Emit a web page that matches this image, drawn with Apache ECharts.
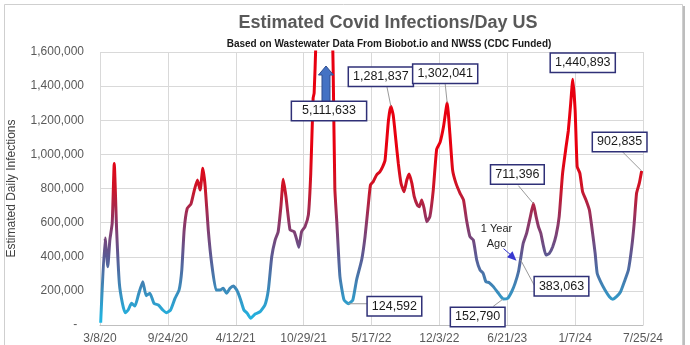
<!DOCTYPE html>
<html><head><meta charset="utf-8">
<script src="https://cdn.jsdelivr.net/npm/echarts@6/dist/echarts.min.js"></script>
<style>html,body{margin:0;padding:0;background:#fff}#c{width:690px;height:345px}</style>
</head><body><div id="c"></div>
<script>
// ---- data ----
const startDate = '3/8/20';
const xTickLabels = ['3/8/20','9/24/20','4/12/21','10/29/21','5/17/22','12/3/22','6/21/23','1/7/24','7/25/24'];
const yTickLabels = ['-  ','200,000','400,000','600,000','800,000','1,000,000','1,200,000','1,400,000','1,600,000'];
// days since 3/8/20
const dayOffsets = [2,15,23,29,36,42,49,57,66,74,83,93,103,113,126,136,147,159,172,185,196,208,221,233,241,248,257,268,278,287,295,303,310,319,329,342,354,363,373,383,393,403,413,424,434,444,457,472,486,496,506,516,525,533,540,548,560,572,580,586,594,604,614,621,628,631,636,642,651,660,669,678,687,692,698,707,719,732,745,756,771,781,791,797,805,815,825,833,840,850,857,864,872,879,887,896,904,911,919,926,935,941,948,955,963,972,982,992,1002,1012,1023,1031,1039,1049,1061,1071,1080,1090,1100,1110,1120,1129,1137,1147,1159,1174,1188,1201,1213,1223,1233,1239,1247,1257,1267,1277,1285,1292,1299,1306,1314,1324,1334,1344,1353,1363,1373,1380,1387,1393,1400,1406,1414,1422,1432,1442,1449,1459,1465,1475,1488,1501,1511,1522,1534,1547,1557,1567,1574,1581,1589,1596];
const infections = [13000,510000,342000,498000,598000,947000,557000,244000,127000,72000,88000,127000,111000,176000,254000,172000,186000,127000,117000,88000,72000,88000,156000,205000,322000,557000,683000,709000,791000,850000,791000,918000,810000,557000,361000,205000,205000,215000,186000,215000,229000,205000,156000,88000,68000,39000,64000,78000,117000,205000,400000,498000,547000,693000,854000,752000,557000,547000,498000,455000,547000,576000,645000,889000,1330000,1360000,1650000,2800000,4200000,5111633,4000000,2500000,1500000,800000,596000,283000,147000,124592,147000,264000,381000,518000,713000,821000,840000,879000,899000,928000,967000,1200000,1281837,1230000,1080000,947000,830000,781000,850000,885000,830000,752000,703000,693000,733000,684000,605000,635000,791000,1030000,1070000,1160000,1302041,1120000,908000,830000,772000,733000,615000,518000,498000,381000,322000,303000,254000,248000,225000,186000,152790,156000,195000,244000,312000,383063,479000,537000,625000,711396,635000,576000,537000,469000,410000,420000,459000,527000,635000,888000,1040000,1140000,1300000,1440893,1260000,928000,889000,781000,733000,674000,576000,420000,303000,254000,205000,166000,151000,166000,195000,264000,322000,459000,596000,772000,830000,902835];
const annotatedValues = [5111633,1281837,1302041,1440893,902835,711396,383063,152790,124592];
const noteText = '1 Year\nAgo';
const titleText = 'Estimated Covid Infections/Day US';
const subtitleText = 'Based on Wastewater Data From Biobot.io and NWSS (CDC Funded)';
const yAxisName = 'Estimated Daily Infections';

// ---- layout (label box offsets from anchor point, leader start offsets) ----
const annoLayout = {
  5111633: {dx:5, dy:59, arrow:true},
  1281837: {dx:-10, dy:-29.5, lx:-4, ly:-20},
  1302041: {dx:-2, dy:-29, lx:-2, ly:-19},
  1440893: {dx:10, dy:-16.5},
  902835:  {dx:-22, dy:-29, lx:-20, ly:-20},
  711396:  {dx:-16, dy:-29, lx:-15, ly:-18},
  383063:  {dx:41, dy:26.5, lx:15, ly:28, note:true},
  152790:  {dx:-25.5, dy:18, lx:-10, ly:7.5},
  124592:  {dx:46, dy:2.6, lx:21, ly:0}
};

const X_MAX = 1600, X_INT = 200, Y_MAX = 1600000, Y_INT = 200000;
const FONT = 'Liberation Sans';

const chart = echarts.init(document.getElementById('c'), null, {renderer:'canvas'});
const option = {
  animation: false,
  backgroundColor: '#ffffff',
  title: [
    {text: titleText, left: 383, top: 9, textAlign: 'center',
     textStyle: {fontFamily: FONT, fontSize: 18, fontWeight: 'bold', color: '#595959'}},
    {text: subtitleText, left: 384, top: 34, textAlign: 'center',
     textStyle: {fontFamily: FONT, fontSize: 10, fontWeight: 'bold', color: '#1a1a1a'}}
  ],
  grid: {left: 100, right: 47, top: 52, bottom: 20, containLabel: false, outerBoundsMode: 'none'},
  xAxis: {
    type: 'value', min: 0, max: X_MAX, interval: X_INT,
    axisLine: {show: true, lineStyle: {color: '#bfbfbf'}},
    axisTick: {show: false},
    axisLabel: {fontFamily: FONT, fontSize: 12, color: '#595959', margin: 8,
      formatter: v => xTickLabels[Math.round(v / X_INT)] || ''},
    splitLine: {show: true, lineStyle: {color: '#d9d9d9'}}
  },
  yAxis: {
    type: 'value', min: 0, max: Y_MAX, interval: Y_INT,
    name: yAxisName, nameLocation: 'middle', nameRotate: 90, nameGap: 82,
    nameTextStyle: {fontFamily: FONT, fontSize: 12, color: '#404040'},
    axisLine: {show: false}, axisTick: {show: false},
    axisLabel: {fontFamily: FONT, fontSize: 12, color: '#595959', margin: 16,
      formatter: v => yTickLabels[Math.round(v / Y_INT)] || ''},
    splitLine: {show: true, lineStyle: {color: '#d9d9d9'}}
  },
  visualMap: {
    type: 'continuous', show: false, dimension: 1, seriesIndex: 0,
    min: 0, max: 1000000,
    inRange: {color: ['#1cbce8', '#3a8cbc', '#5a5a94', '#8e3666', '#cc1428', '#e80010']}
  },
  series: [{
    type: 'line', showSymbol: false, clip: true, smooth: 0.15,
    lineStyle: {width: 3},
    data: dayOffsets.map((d, i) => [d, infections[i]])
  }]
};
chart.setOption(option);

const g = [];
annotatedValues.forEach(v => {
  const i = infections.indexOf(v);
  const L = annoLayout[v];
  const [px, py] = chart.convertToPixel({gridIndex: 0}, [dayOffsets[i], Math.min(infections[i], Y_MAX)]);
  if (L.lx !== undefined) {
    g.push({type: 'line', z: 50, shape: {x1: px + L.lx, y1: py + L.ly, x2: px, y2: py},
      style: {stroke: '#9a9a9a', lineWidth: 1}});
  }
  if (L.arrow) {
    const cx = px + 2;
    g.push({type: 'polygon', z: 55, shape: {points: [
      [cx, py + 14], [cx + 7.5, py + 23], [cx + 4, py + 23], [cx + 4, py + 50],
      [cx - 4, py + 50], [cx - 4, py + 23], [cx - 7.5, py + 23]]},
      style: {fill: '#4472c4', stroke: '#2f4f8f', lineWidth: 1}});
  }
  if (L.note) {
    g.push({type: 'text', z: 55, x: px - 24, y: py - 23,
      style: {text: noteText, align: 'center', verticalAlign: 'middle', lineHeight: 15,
        fontFamily: FONT, fontSize: 11, fill: '#262626'}});
    g.push({type: 'line', z: 55, shape: {x1: px - 17, y1: py - 11, x2: px - 10, y2: py - 5},
      style: {stroke: '#3333cc', lineWidth: 1}});
    g.push({type: 'polygon', z: 55, shape: {points: [[px - 4, py + 1], [px - 13.5, py - 2.5], [px - 8, py - 8.5]]},
      style: {fill: '#3838d0'}});
  }
  g.push({type: 'text', z: 60, x: px + L.dx, y: py + L.dy,
    style: {text: v.toLocaleString('en-US'), align: 'center', verticalAlign: 'middle',
      fontFamily: FONT, fontSize: 12.5, fill: '#1a1a1a',
      backgroundColor: '#ffffff', borderColor: '#2f3077', borderWidth: 1.5,
      padding: L.arrow ? [3, 10, 2, 10] : [3, 4, 2, 4]}});
});
g.push({type: 'rect', z: 1, shape: {x: 4.5, y: 4.5, width: 678, height: 345},
  style: {fill: 'none', stroke: '#cfcfcf', lineWidth: 1}});
g.push({type: 'line', z: 1, shape: {x1: 684, y1: 6, x2: 684, y2: 345},
  style: {stroke: '#bdbdbd', lineWidth: 2}});
chart.setOption({graphic: g});
</script>
</body></html>
